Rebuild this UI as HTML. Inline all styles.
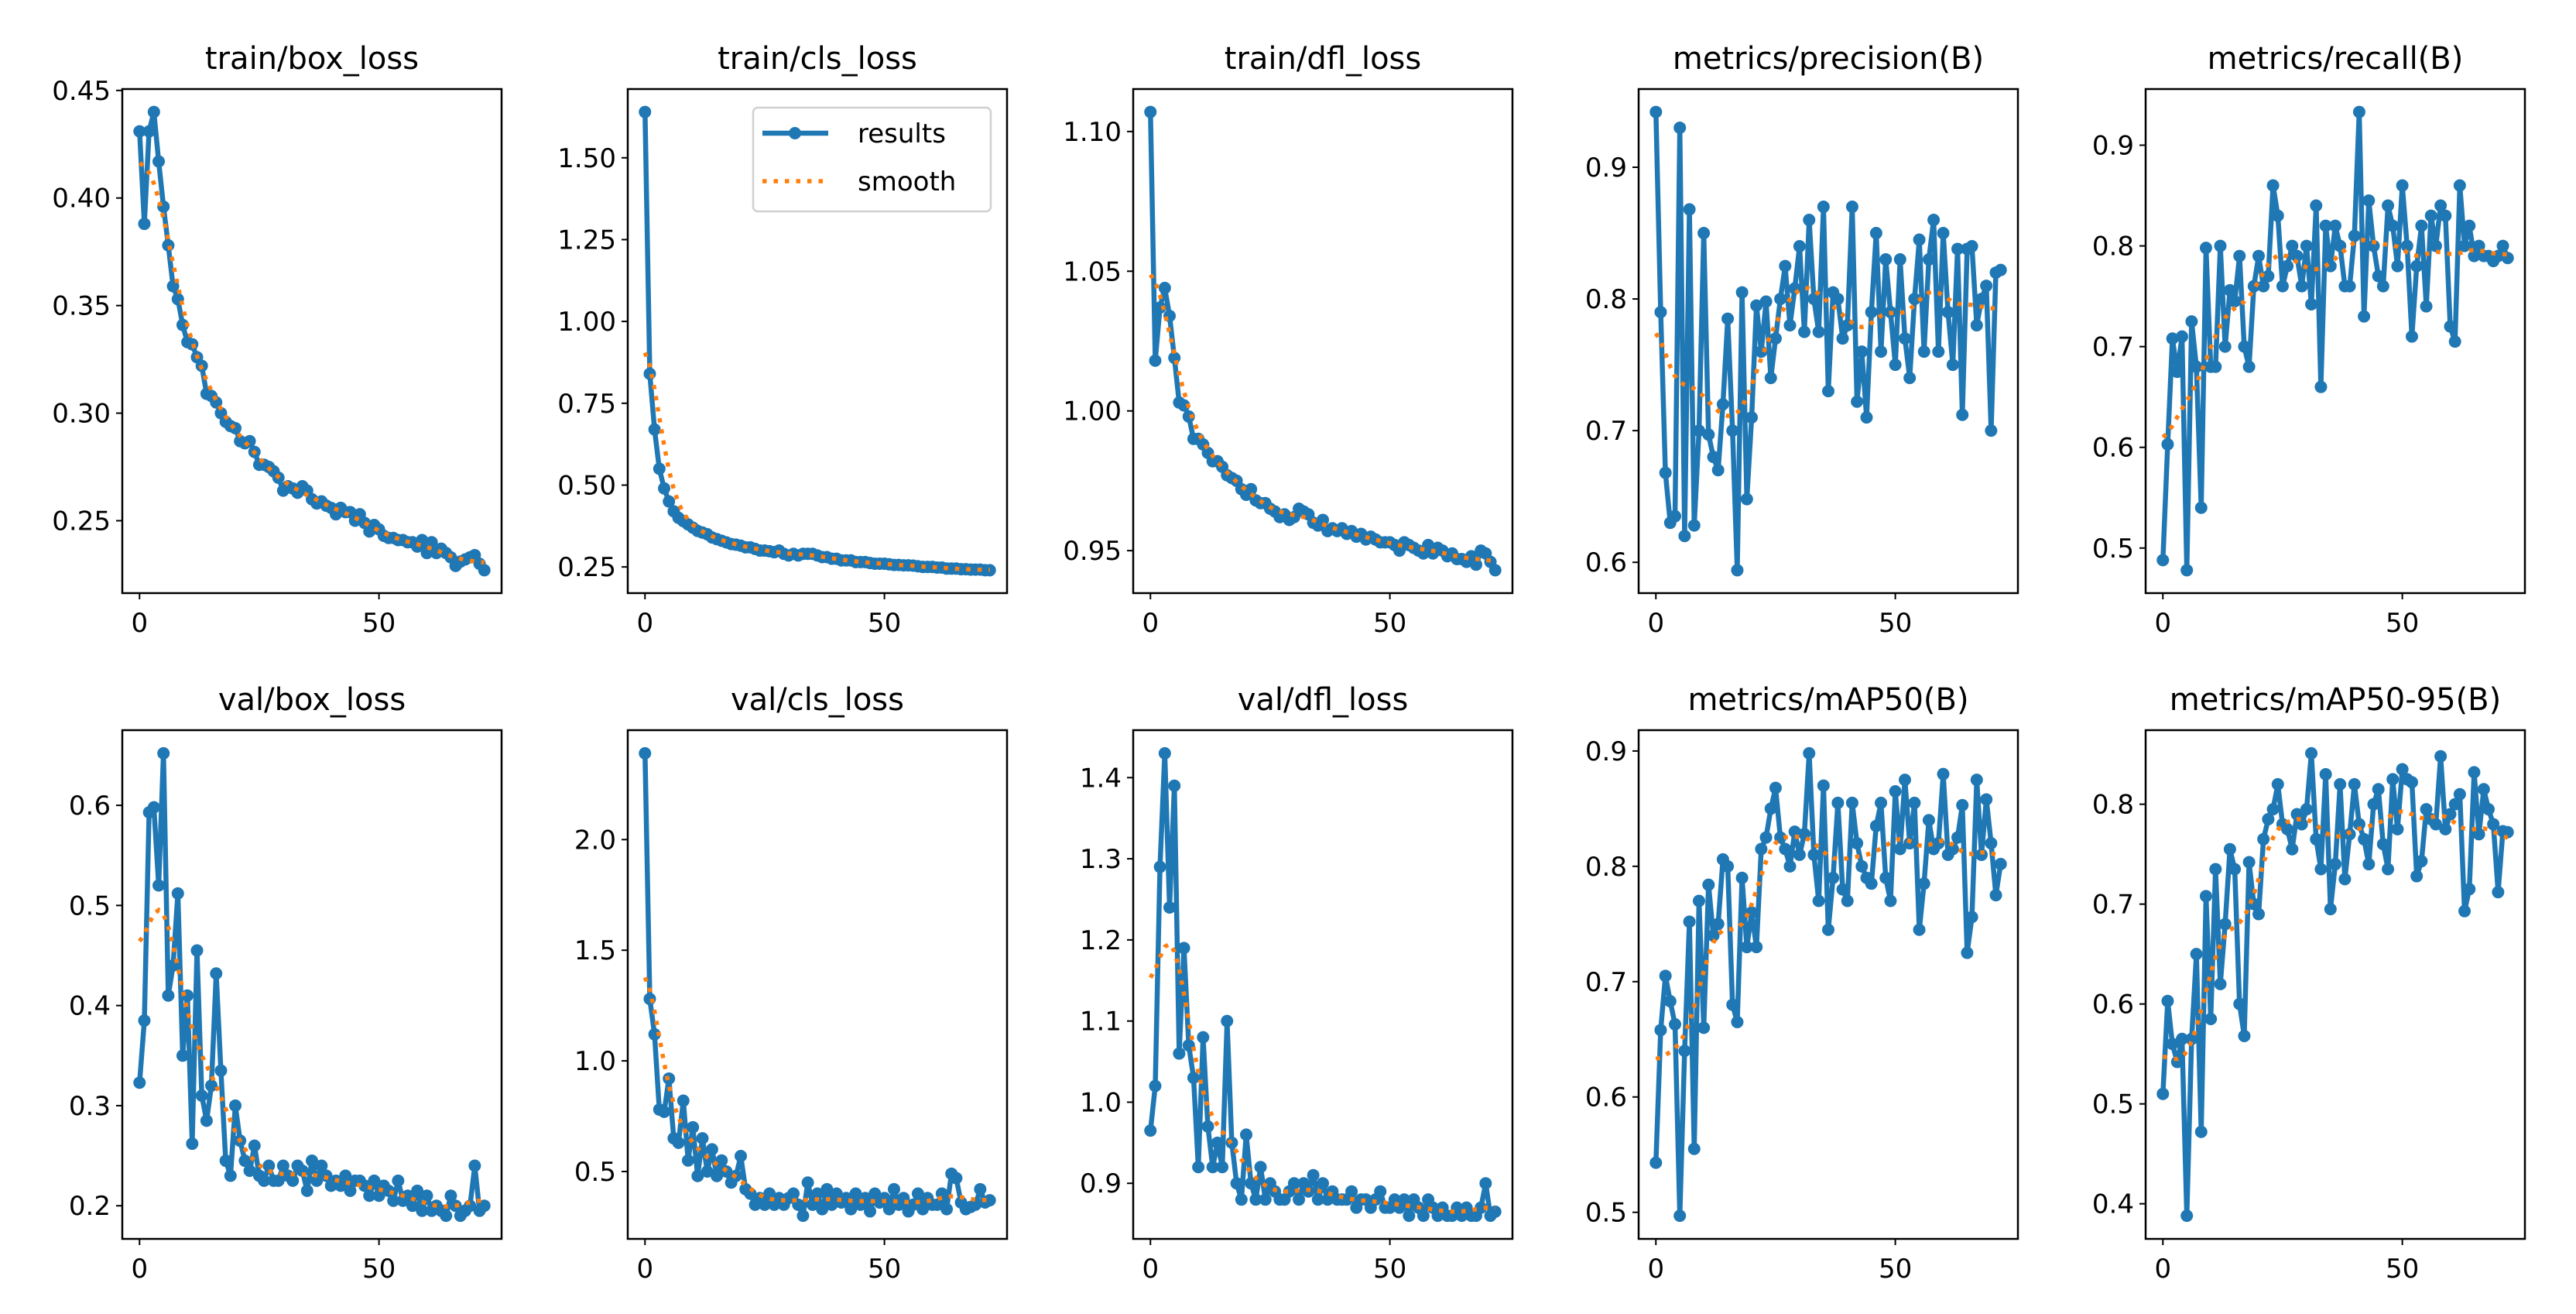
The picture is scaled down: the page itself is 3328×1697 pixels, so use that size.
<!DOCTYPE html>
<html><head><meta charset="utf-8"><title>results</title>
<style>
html,body{margin:0;padding:0;background:#fff;}
svg{display:block;font-family:"DejaVu Sans","Liberation Sans",sans-serif;}
</style></head>
<body>
<svg id="fig" width="3328" height="1697" viewBox="0 0 3328 1697" xmlns="http://www.w3.org/2000/svg"></svg>
<script>
const epochs = Array.from({length:73},(_, i)=>i);
const titles = ["train/box_loss","train/cls_loss","train/dfl_loss","metrics/precision(B)","metrics/recall(B)","val/box_loss","val/cls_loss","val/dfl_loss","metrics/mAP50(B)","metrics/mAP50-95(B)"];
const trainBox = [.431,.388,.431,.440,.417,.396,.378,.359,.353,.341,.333,.332,.326,.322,.309,.308,.305,.300,.296,.294,.293,.287,.286,.287,.282,.276,.276,.275,.273,.270,.264,.266,.265,.263,.266,.264,.260,.258,.259,.257,.256,.253,.256,.254,.254,.250,.253,.249,.245,.248,.246,.243,.242,.242,.241,.241,.240,.240,.238,.241,.235,.240,.235,.237,.235,.233,.229,.231,.232,.233,.234,.230,.227];
const trainCls = [1.64,.84,.67,.55,.49,.45,.42,.40,.39,.38,.37,.36,.355,.35,.34,.335,.33,.325,.32,.318,.315,.31,.31,.305,.30,.30,.298,.295,.30,.29,.285,.29,.285,.29,.29,.29,.285,.28,.28,.275,.275,.27,.27,.27,.265,.265,.265,.262,.26,.26,.26,.258,.256,.256,.255,.255,.254,.252,.25,.25,.25,.248,.248,.245,.245,.245,.243,.243,.242,.242,.242,.240,.240];
const trainDfl = [1.107,1.018,1.037,1.044,1.034,1.019,1.003,1.002,.998,.990,.990,.988,.985,.982,.982,.980,.977,.976,.975,.972,.970,.972,.968,.967,.967,.965,.964,.962,.963,.961,.962,.965,.964,.963,.960,.959,.961,.957,.958,.957,.958,.956,.957,.955,.956,.954,.955,.954,.953,.953,.953,.952,.950,.953,.952,.951,.950,.949,.952,.949,.951,.950,.948,.949,.947,.947,.946,.948,.945,.950,.949,.946,.943];
const precision = [.942,.790,.668,.630,.635,.930,.620,.868,.628,.700,.850,.697,.680,.670,.720,.785,.700,.594,.805,.648,.710,.795,.760,.798,.740,.770,.800,.825,.780,.808,.840,.775,.860,.800,.775,.870,.730,.805,.800,.770,.780,.870,.722,.760,.710,.790,.850,.760,.830,.790,.750,.830,.770,.740,.800,.845,.760,.830,.860,.760,.850,.790,.750,.838,.712,.838,.840,.780,.800,.810,.700,.820,.822];
const recall = [.488,.603,.708,.675,.710,.478,.725,.680,.540,.798,.680,.680,.800,.700,.756,.745,.790,.700,.680,.760,.790,.760,.770,.860,.830,.760,.780,.800,.790,.760,.800,.742,.840,.660,.820,.780,.820,.800,.760,.760,.810,.933,.730,.845,.800,.770,.760,.840,.820,.780,.860,.800,.710,.780,.820,.740,.830,.800,.840,.830,.720,.705,.860,.800,.820,.790,.800,.790,.790,.785,.790,.800,.788];
const valBox = [.323,.385,.593,.598,.520,.652,.410,.440,.512,.350,.410,.262,.455,.310,.285,.320,.432,.335,.245,.230,.300,.265,.245,.235,.260,.230,.225,.240,.225,.225,.240,.230,.225,.240,.235,.215,.245,.225,.240,.230,.220,.225,.220,.230,.215,.225,.225,.220,.210,.225,.210,.220,.215,.205,.225,.205,.210,.200,.215,.195,.210,.195,.200,.195,.190,.210,.200,.190,.195,.200,.240,.195,.200];
const valCls = [2.39,1.28,1.12,.78,.77,.92,.65,.63,.82,.55,.70,.48,.65,.50,.60,.48,.55,.50,.45,.48,.57,.42,.40,.35,.38,.35,.40,.35,.38,.35,.38,.40,.35,.30,.45,.35,.40,.33,.42,.35,.40,.36,.38,.33,.40,.35,.38,.32,.40,.36,.38,.33,.42,.35,.38,.32,.35,.40,.33,.38,.35,.35,.40,.33,.49,.47,.36,.33,.34,.35,.42,.36,.37];
const valDfl = [.965,1.02,1.29,1.43,1.24,1.39,1.06,1.19,1.07,1.03,.92,1.08,.97,.92,.95,.92,1.10,.95,.90,.88,.96,.90,.88,.92,.88,.90,.89,.88,.88,.89,.90,.88,.90,.89,.91,.88,.90,.88,.89,.88,.88,.88,.89,.87,.88,.88,.87,.88,.89,.87,.87,.88,.87,.88,.86,.88,.87,.86,.88,.87,.86,.87,.86,.86,.87,.86,.87,.86,.86,.87,.90,.86,.865];
const map50 = [.543,.658,.705,.683,.663,.497,.640,.752,.555,.770,.660,.784,.740,.750,.806,.800,.680,.665,.790,.730,.760,.730,.815,.825,.850,.868,.825,.815,.800,.830,.810,.828,.898,.810,.770,.870,.745,.790,.855,.780,.770,.855,.820,.800,.790,.785,.835,.855,.790,.770,.865,.815,.875,.820,.855,.745,.785,.840,.815,.820,.880,.810,.815,.825,.853,.725,.756,.875,.810,.858,.820,.775,.802];
const map5095 = [.510,.603,.560,.542,.565,.388,.565,.650,.472,.708,.585,.735,.620,.680,.755,.735,.600,.568,.742,.700,.690,.765,.785,.795,.820,.780,.775,.755,.790,.780,.795,.851,.765,.735,.830,.695,.740,.820,.725,.770,.820,.780,.765,.740,.800,.815,.760,.735,.825,.775,.835,.825,.822,.728,.743,.795,.785,.780,.848,.775,.790,.800,.810,.693,.715,.832,.770,.815,.795,.780,.712,.773,.772];
const seriesList = [trainBox,trainCls,trainDfl,precision,recall,valBox,valCls,valDfl,map50,map5095];
const yTicks = [[.25,.30,.35,.40,.45],[.25,.50,.75,1.00,1.25,1.50],[.95,1.00,1.05,1.10],[.6,.7,.8,.9],[.5,.6,.7,.8,.9],[.2,.3,.4,.5,.6],[.5,1.0,1.5,2.0],[.9,1.0,1.1,1.2,1.3,1.4],[.5,.6,.7,.8,.9],[.4,.5,.6,.7,.8]];
const yDecimals = [2,2,2,1,1,1,1,1,1,1];
const xTicks = [0,50];

const NS="http://www.w3.org/2000/svg";
const fig=document.getElementById('fig');
function mk(tag,attrs,parent){const e=document.createElementNS(NS,tag);for(const k in attrs)e.setAttribute(k,attrs[k]);(parent||fig).appendChild(e);return e;}

function gauss(y,sigma){
  const r=Math.round(4*sigma),w=[];let s=0;
  for(let k=-r;k<=r;k++){const v=Math.exp(-0.5*k*k/(sigma*sigma));w.push(v);s+=v;}
  const n=y.length,out=[];
  const at=i=>{while(i<0||i>=n){if(i<0)i=-i-1;if(i>=n)i=2*n-i-1;}return y[i];};
  for(let i=0;i<n;i++){let a=0;for(let k=-r;k<=r;k++)a+=w[k+r]*at(i+k);out.push(a/s);}
  return out;
}

const AX_W=490, lefts=[158,811,1464,2117,2772], tops=[115,943], AX_H=[651,657];

seriesList.forEach((ys,p)=>{
  const col=p%5,row=Math.floor(p/5);
  const L=lefts[col],T=tops[row],H=AX_H[row],W=AX_W;
  const n=ys.length;
  const xmin=-0.05*(n-1),xmax=(n-1)*1.05;
  const ymn=Math.min(...ys),ymx=Math.max(...ys),pad=0.05*(ymx-ymn);
  const y0=ymn-pad,y1=ymx+pad;
  const sx=v=>L+(v-xmin)/(xmax-xmin)*W;
  const sy=v=>T+H-(v-y0)/(y1-y0)*H;
  const g=mk('g',{});
  
  
  const t=mk('text',{x:L+W/2,y:T-26,'text-anchor':'middle','font-size':40,fill:'#000'},g);
  t.textContent=titles[p];
  
  
  xTicks.forEach(v=>{
    const x=sx(v);
    const tk=mk('line',{x1:x,x2:x,y1:T+H,y2:T+H+8,stroke:'#000','stroke-width':2},g);
    
    
    const tl=mk('text',{x:x,y:T+H+50,'text-anchor':'middle','font-size':34,fill:'#000'},g);
    tl.textContent=String(v);
    
    
  });
  yTicks[p].forEach(v=>{
    const y=sy(v);
    const tk=mk('line',{x1:L-8,x2:L,y1:y,y2:y,stroke:'#000','stroke-width':2},g);
    
    
    const tl=mk('text',{x:L-15,y:y+12,'text-anchor':'end','font-size':34,fill:'#000'},g);
    tl.textContent=v.toFixed(yDecimals[p]);
    
    
  });
  const clip=mk('clipPath',{id:'c'+p},g);
  mk('rect',{x:L,y:T,width:W,height:H},clip);
  const pts=ys.map((v,i)=>sx(epochs[i]).toFixed(1)+','+sy(v).toFixed(1)).join(' ');
  const line=mk('polyline',{points:pts,fill:'none',stroke:'#1f77b4','stroke-width':6.5,'stroke-linejoin':'round','clip-path':'url(#c'+p+')'},g);
  
  
  ys.forEach((v,i)=>{
    const c=mk('circle',{cx:sx(epochs[i]),cy:sy(v),r:8,fill:'#1f77b4'},g);
    
    
  });
  const sm=gauss(ys,3);
  const spts=sm.map((v,i)=>sx(epochs[i]).toFixed(1)+','+sy(v).toFixed(1)).join(' ');
  const sl=mk('polyline',{points:spts,fill:'none',stroke:'#ff7f0e','stroke-width':5.5,'stroke-dasharray':'5.5 9'},g);
  
  
  const fr=mk('rect',{x:L,y:T,width:W,height:H,fill:'none',stroke:'#000','stroke-width':2.5},g);
  
  
});

const lg=mk('g',{});


mk('rect',{x:973,y:139,width:307,height:134,rx:6,fill:'#fff','fill-opacity':0.8,stroke:'#d0d0d0','stroke-width':2.5},lg);
const l1=mk('line',{x1:985,x2:1070,y1:172,y2:172,stroke:'#1f77b4','stroke-width':6.5},lg);


mk('circle',{cx:1027,cy:172,r:8,fill:'#1f77b4'},lg);
const t1=mk('text',{x:1108,y:184,'font-size':34,fill:'#000'},lg);t1.textContent='results';


const l2=mk('line',{x1:985,x2:1070,y1:234,y2:234,stroke:'#ff7f0e','stroke-width':5.5,'stroke-dasharray':'5.5 9'},lg);


const t2=mk('text',{x:1108,y:246,'font-size':34,fill:'#000'},lg);t2.textContent='smooth';


</script>
</body></html>
